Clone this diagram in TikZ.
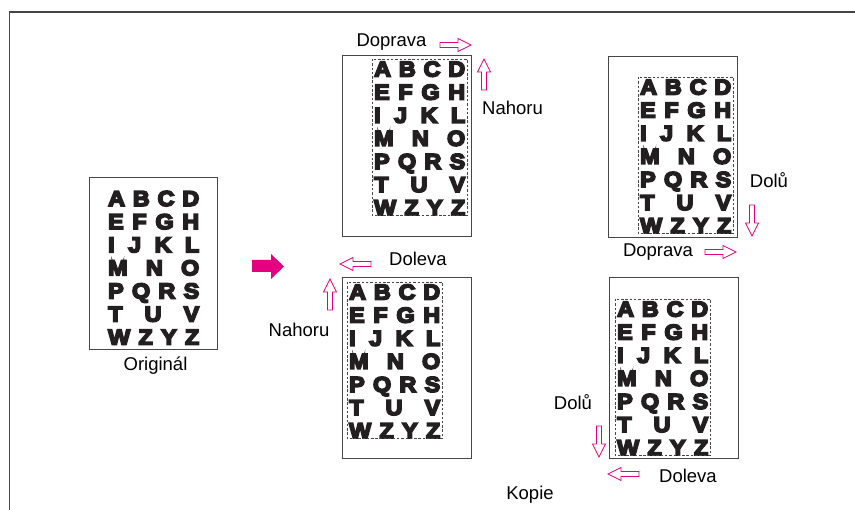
\documentclass[tikz,border=0pt]{standalone}
\usepackage{fontspec}
\setmainfont{Liberation Sans}
\newfontfamily\heavyfont{Liberation Sans Bold}[FakeBold=8,FakeStretch=1.08]
\definecolor{pink}{RGB}{228,0,127}
\definecolor{ink}{RGB}{35,31,32}
\definecolor{rule}{RGB}{70,70,70}
\tikzset{
  lbl/.style={anchor=base,inner sep=0pt,font=\fontsize{18.5}{20}\selectfont,text=black},
  letters/.style={anchor=base west,inner sep=0pt,font=\heavyfont\fontsize{21.5}{22}\selectfont,text=ink},
  pagebox/.style={draw=rule,line width=0.9pt},
  dashbox/.style={draw=rule,line width=0.7pt,dash pattern=on 2.5pt off 1.8pt},
  harrow/.pic={\draw[pink,line width=0.8pt,fill=white]
     (0,-2.5) -- (18,-2.5) -- (18,-6.5) -- (31,0) -- (18,6.5) -- (18,2.5) -- (0,2.5) -- cycle;}
}
\newcommand\lgrid[2]{%
  \begin{scope}[shift={(#1,#2)}]
    \node[letters] (r1) at (0,15) {\hbox to 91pt{A\hfill B\hfill C\hfill D}};
    \node[letters] (r2) at (0,38.1) {\hbox to 91pt{E\hfill F\hfill G\hfill H}};
    \node[letters] (r3) at (0,61.2) {\hbox to 91pt{I\hfill J\hfill K\hfill L}};
    \node[letters] (r4) at (0,84.3) {\hbox to 91pt{M\hfill N\hfill O}};
    \node[letters] (r5) at (0,107.4) {\hbox to 91pt{P\hfill Q\hfill R\hfill S}};
    \node[letters] (r6) at (0,130.5) {\hbox to 91pt{T\hfill U\hfill V}};
    \node[letters] (r7) at (0,153.6) {\hbox to 91pt{W\hfill Z\hfill Y\hfill Z}};
  \end{scope}}
\newcommand\copypage[4]{% box left, box top, grid dx, grid dy
  \draw[pagebox] (#1,#2) rectangle ++(129,181);
  \begin{scope}
    \clip (#1+#3-2,#2+#4-2.5) rectangle (#1+#3+93,#2+#4+154);
    \lgrid{#1+#3}{#2+#4}
  \end{scope}
  \draw[dashbox] (#1+#3-2,#2+#4-2.5) rectangle (#1+#3+93,#2+#4+154);}
\begin{document}
\begin{tikzpicture}[x=1pt,y=-1pt]
\useasboundingbox (0,0) rectangle (855,510);
% outer frame
\draw[rule,line width=1.4pt] (9.5,510) -- (9.5,12) -- (855,12);
% original
\draw[pagebox] (89,177) rectangle (217,349);
\lgrid{108}{191}
\node[lbl] (orig) at (155.5,371) {Originál};
% big arrow
\fill[pink] (252,260) -- (271,260) -- (271,254) -- (284,266.5) -- (271,279) -- (271,272) -- (252,272) -- cycle;
% copies
\copypage{342}{55}{32}{6.5}
\copypage{608}{56}{32}{23.5}
\copypage{342}{277}{7}{7.5}
\copypage{609}{277}{8}{24.5}
% labels copy 1
\node[lbl] (c1r) at (391.5,47) {Doprava};
\node[lbl] (c1u) at (512.5,115) {Nahoru};
\pic at (440,45) {harrow};
\pic[rotate=90] at (484,90) {harrow};
% copy 2
\node[lbl] (c2d) at (769,188) {Dolů};
\node[lbl] (c2r) at (658,257) {Doprava};
\pic[rotate=-90] at (752,205) {harrow};
\pic at (705,252) {harrow};
% copy 3
\node[lbl] (c3l) at (418,266) {Doleva};
\node[lbl] (c3u) at (299,337) {Nahoru};
\pic[rotate=180] at (371,264) {harrow};
\pic[rotate=90] at (330,310) {harrow};
% copy 4
\node[lbl] (c4d) at (573,410) {Dolů};
\node[lbl] (c4l) at (688,483) {Doleva};
\pic[rotate=-90] at (599,426) {harrow};
\pic[rotate=180] at (639,474) {harrow};
\node[lbl] (kopie) at (530,500) {Kopie};
\end{tikzpicture}
\end{document}
